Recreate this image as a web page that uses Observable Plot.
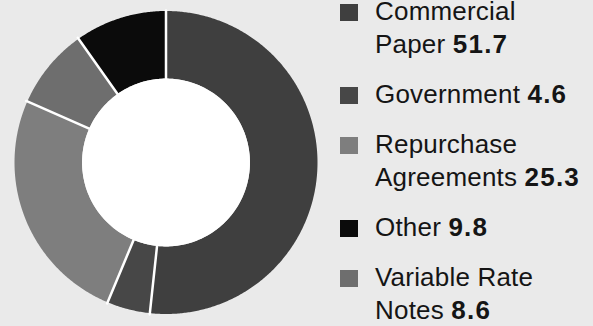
<!DOCTYPE html>
<html><head><meta charset="utf-8">
<script src="https://cdn.jsdelivr.net/npm/d3@7"></script>
<script src="https://cdn.jsdelivr.net/npm/@observablehq/plot@0.6"></script>
<style>
html,body{margin:0;padding:0;background:#eaeaea;width:593px;height:326px;overflow:hidden;}
#wrap{position:relative;width:593px;height:326px;}
#chart{position:absolute;left:0;top:0;}
#legend{position:absolute;left:340px;top:-5px;display:flex;flex-direction:column;gap:17px;font-family:"Liberation Sans",Arial,sans-serif;font-size:26px;line-height:33px;color:#151515;letter-spacing:0.2px;}
.item{display:flex;align-items:flex-start;}
.sw{width:18px;height:17px;margin-top:8.5px;flex:none;}
.lab{margin-left:17px;white-space:nowrap;}
.lab b{font-weight:700;letter-spacing:1.2px;}
</style></head><body><div id="wrap"><div id="chart"></div><div id="legend"></div></div>
<script>
// Data (clockwise from 12 o'clock)
const categories = ["Commercial Paper", "Government", "Repurchase Agreements", "Variable Rate Notes", "Other"];
const values = [51.7, 4.6, 25.3, 8.6, 9.8];
const colors = ["#3f3f3f", "#474747", "#7e7e7e", "#6e6e6e", "#0b0b0b"];
// Legend
const legendOrder = ["Commercial Paper", "Government", "Repurchase Agreements", "Other", "Variable Rate Notes"];
const legendLines = [["Commercial", "Paper"], ["Government"], ["Repurchase", "Agreements"], ["Other"], ["Variable Rate", "Notes"]];

const outerDist = 60;            // angular radius of ring outer edge
const innerDist = 60 * 0.554;    // angular radius of ring inner edge
const latOuter = 90 - outerDist, latInner = 90 - innerDist;
const lon = t => 180 - t;        // clockwise angle from top -> longitude
const total = d3.sum(values);

let cum = 0;
const slices = categories.map((c, i) => {
  const a0 = cum / total * 360; cum += values[i]; const a1 = cum / total * 360;
  const ring = [];
  for (let t = a0; t < a1; t += 0.5) ring.push([lon(t), latOuter]);
  ring.push([lon(a1), latOuter]);
  for (let t = a1; t > a0; t -= 0.5) ring.push([lon(t), latInner]);
  ring.push([lon(a0), latInner]);
  ring.push(ring[0]);
  return {type: "Feature", properties: {category: c, a0, a1}, geometry: {type: "Polygon", coordinates: [ring]}};
});
const seps = slices.map(s => ({type: "Feature", properties: {}, geometry: {type: "LineString",
  coordinates: [[lon(s.properties.a0), latInner + 0.5], [lon(s.properties.a0), latOuter - 0.5]]}}));
const hole = d3.geoCircle().center([0, 90]).radius(innerDist)();

const chart = Plot.plot({
  width: 333, height: 326,
  marginLeft: 14, marginRight: 16, marginTop: 10, marginBottom: 12,
  style: {background: "transparent"},
  projection: {type: "azimuthal-equidistant", rotate: [0, -90], domain: d3.geoCircle().center([0, 90]).radius(outerDist)()},
  color: {domain: categories, range: colors},
  marks: [
    Plot.geo(slices, {fill: d => d.properties.category}),
    Plot.geo([hole], {fill: "white"}),
    Plot.geo(seps, {stroke: "white", strokeWidth: 2.5})
  ]
});
document.getElementById("chart").appendChild(chart);

const legend = document.getElementById("legend");
legendOrder.forEach((c, k) => {
  const i = categories.indexOf(c);
  const item = document.createElement("div"); item.className = "item";
  const sw = document.createElement("div"); sw.className = "sw"; sw.style.background = chart.scale("color").apply(c);
  const lab = document.createElement("div"); lab.className = "lab";
  const lines = legendLines[k];
  lab.innerHTML = lines.map((l, j) => j === lines.length - 1 ? `${l} <b>${values[i]}</b>` : l).join("<br>");
  item.appendChild(sw); item.appendChild(lab); legend.appendChild(item);
});
</script></body></html>
